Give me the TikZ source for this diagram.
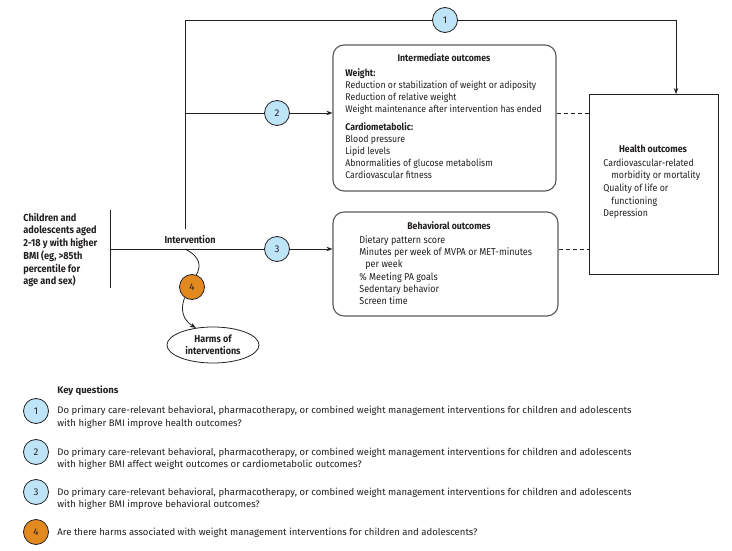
\documentclass[tikz,border=0pt]{standalone}
\usepackage{fontspec}
\setmainfont{Fira Sans}[FakeStretch=0.9]
\newfontfamily\kqfont{Fira Sans}
\usetikzlibrary{arrows.meta,shapes.geometric}
\definecolor{kqblue}{RGB}{190,228,248}
\definecolor{kqorange}{RGB}{226,138,32}
\definecolor{ink}{RGB}{35,31,32}
\newcommand\lstack[1]{\begin{tabular}[t]{@{}l@{}}#1\end{tabular}}
\begin{document}
\begin{tikzpicture}[x=1pt,y=-1pt,
  line width=0.8pt,
  every node/.style={text=ink},
  arr/.style={draw=ink,-{Stealth[length=6pt,width=4.5pt]}},
  ln/.style={draw=ink},
  kq/.style={circle,draw=ink,line width=0.8pt,minimum size=25pt,inner sep=0pt,font=\kqfont\fontsize{9.8}{10}\selectfont},
  obox/.style={draw=ink!75,line width=1.1pt,rounded corners=11pt,inner sep=0pt},
  hbox/.style={draw=ink,line width=0.9pt,inner sep=0pt},
  dtext/.style={anchor=base west,inner sep=0pt,font=\fontsize{9.7}{11.9}\selectfont},
  ttext/.style={anchor=base,inner sep=0pt,font=\fontsize{9.7}{11.9}\selectfont\bfseries},
  qtext/.style={anchor=base west,inner sep=0pt,font=\kqfont\fontsize{9.55}{12.7}\selectfont},
]
\useasboundingbox (0,0) rectangle (732,551);

% boxes
\node[obox,minimum width=223pt,minimum height=146pt] (inter) at (444.5,118) {};
\node[obox,minimum width=225pt,minimum height=104pt] (beh) at (445.5,264) {};
\node[hbox,minimum width=129pt,minimum height=180pt] (health) at (653.5,184) {};

% intermediate outcomes text
\node[ttext] (intertitle) at (444,61.5) {Intermediate outcomes};
\node[dtext] (interw) at (345,76.5) {\lstack{\textbf{Weight:}\\Reduction or stabilization of weight or adiposity\\Reduction of relative weight\\Weight maintenance after intervention has ended}};
\node[dtext] (interc) at (345,131) {\lstack{\textbf{Cardiometabolic:}\\Blood pressure\\Lipid levels\\Abnormalities of glucose metabolism\\Cardiovascular fitness}};

% behavioral outcomes text
\node[ttext] (behtitle) at (449,229.5) {Behavioral outcomes};
\node[dtext,font=\fontsize{10}{12.2}\selectfont] (behlist) at (359,243.5) {\lstack{Dietary pattern score\\Minutes per week of MVPA or MET-minutes\\\hspace*{6pt}per week\\\% Meeting PA goals\\Sedentary behavior\\Screen time}};

% health outcomes text
\node[ttext,font=\fontsize{9.8}{12}\selectfont\bfseries] (healthtitle) at (653,153) {Health outcomes};
\node[dtext,font=\fontsize{9.8}{12.75}\selectfont] (healthlist) at (603,166) {\lstack{Cardiovascular-related\\\hspace*{8pt}morbidity or mortality\\Quality of life or\\\hspace*{8pt}functioning\\Depression}};

% population
\node[dtext,font=\fontsize{10.2}{12.8}\selectfont\bfseries] (pop) at (23,221) {\lstack{Children and\\adolescents aged\\2-18 y with higher\\BMI (eg, >85th\\percentile for\\age and sex)}};
\coordinate (popt) at (110,210);
\coordinate (popb) at (110,288);
\draw[ln] (popt) -- (popb);

% intervention
\node[ttext,font=\fontsize{10}{11}\selectfont\bfseries] (interv) at (190,243) {Intervention};
\coordinate (pm) at (110,249);
\coordinate (vb) at (185,229);
\coordinate (j2) at (185,113);
\coordinate (j4) at (185,249);
\coordinate (hn) at (676,94);

% key question circles in diagram
\node[kq,fill=kqblue] (q1) at (445,20) {1};
\node[kq,fill=kqblue] (q2) at (277,113) {2};
\node[kq,fill=kqblue] (q3) at (277,249) {3};
\node[kq,fill=kqorange] (q4) at (192,287) {4};

% harms
\node[ellipse,draw=ink,line width=0.8pt,minimum width=92pt,minimum height=36pt,inner sep=0pt,align=center,font=\fontsize{10}{12}\selectfont\bfseries] (harms) at (213,345) {Harms of\\interventions};

% connectors
\draw[ln] (vb) |- (q1);
\draw[arr] (q1) -| (hn);
\draw[ln] (j2) -- (q2);
\draw[arr] (q2) -- (q2 -| inter.west);
\draw[ln] (pm) -- (q3);
\draw[arr] (q3) -- (q3 -| beh.west);
\draw[ln,dash pattern=on 4pt off 3pt] (q2 -| inter.east) -- (q2 -| health.west);
\draw[ln,dash pattern=on 4pt off 3pt] (q3 -| beh.east) -- (q3 -| health.west);
\draw[ln] (j4) .. controls (201,257) and (201,266) .. (q4.70);
\draw[arr] (q4.235) .. controls (180,310) and (183,320) .. (harms.135);

% key questions legend
\node[anchor=base west,inner sep=0pt,font=\kqfont\fontsize{9.5}{11}\selectfont\bfseries] (kqtitle) at (57,393.5) {Key questions};
\node[kq,fill=kqblue] (k1) at (36,411) {1};
\node[kq,fill=kqblue] (k2) at (36,452) {2};
\node[kq,fill=kqblue] (k3) at (36,492) {3};
\node[kq,fill=kqorange] (k4) at (36,532) {4};
\node[qtext] (t1) at (57,413.5) {\lstack{Do primary care-relevant behavioral, pharmacotherapy, or combined weight management interventions for children and adolescents\\with higher BMI improve health outcomes?}};
\node[qtext] (t2) at (57,455) {\lstack{Do primary care-relevant behavioral, pharmacotherapy, or combined weight management interventions for children and adolescents\\with higher BMI affect weight outcomes or cardiometabolic outcomes?}};
\node[qtext] (t3) at (57,495) {\lstack{Do primary care-relevant behavioral, pharmacotherapy, or combined weight management interventions for children and adolescents\\with higher BMI improve behavioral outcomes?}};
\node[qtext] (t4) at (57,535) {Are there harms associated with weight management interventions for children and adolescents?};
\end{tikzpicture}
\end{document}
